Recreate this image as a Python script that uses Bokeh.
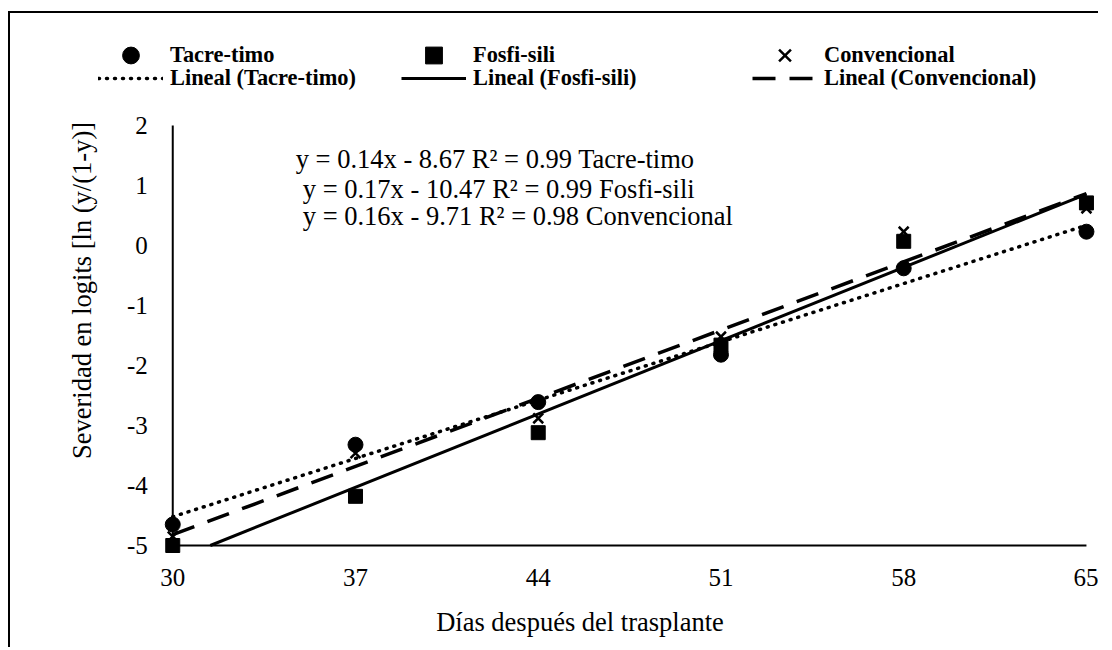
import numpy as np
from bokeh.plotting import figure
from bokeh.models import Range1d, FixedTicker, Legend, LegendItem
from bokeh.core.properties import value
from bokeh.embed import file_html
from bokeh.resources import INLINE

# ---------------- data ----------------
days = [30, 37, 44, 51, 58, 65]
tacre = [-4.65, -3.32, -2.61, -1.82, -0.38, 0.23]
fosfi = [-5.00, -4.18, -3.12, -1.66, 0.07, 0.71]
conv = [-4.85, -3.46, -2.88, -1.52, 0.23, 0.62]

series_names = ["Tacre-timo", "Fosfi-sili", "Convencional"]
eq_slopes = [0.14, 0.17, 0.16]
eq_intercepts = [-8.67, -10.47, -9.71]
eq_r2 = [0.99, 0.99, 0.98]

x_ticks = [30, 37, 44, 51, 58, 65]
y_ticks = [-5, -4, -3, -2, -1, 0, 1, 2]
x_title = "Días después del trasplante"
y_title = "Severidad en logits [ln (y/(1-y)]"

# ---------------- style / layout ----------------
FONT = "Liberation Serif"
X_MIN, X_MAX = 30, 65
Y_MIN, Y_MAX = -5, 2

p = figure(width=1090, height=636,
           x_range=Range1d(25.7, 65.5), y_range=Range1d(-5.25, 3.75),
           output_backend="svg", toolbar_location=None,
           min_border_left=50, min_border_right=1,
           min_border_top=7, min_border_bottom=89)
p.styles = {"border-left": "2px solid black", "border-top": "2px solid black",
            "margin-top": "11px", "margin-left": "8px"}
p.outline_line_color = None
p.xgrid.visible = False
p.ygrid.visible = False
p.background_fill_color = "white"
p.border_fill_color = "white"

p.xaxis.ticker = FixedTicker(ticks=x_ticks)
p.yaxis.ticker = FixedTicker(ticks=y_ticks)
p.yaxis.fixed_location = X_MIN
p.yaxis.major_label_overrides = {t: str(t) for t in y_ticks}
for ax in (p.xaxis[0], p.yaxis[0]):
    ax.axis_line_color = None
    ax.major_tick_line_color = None
    ax.minor_tick_line_color = None
    ax.major_tick_out = 0
    ax.major_tick_in = 0
    ax.minor_tick_out = 0
    ax.major_label_text_font = FONT
    ax.major_label_text_font_size = "25px"
    ax.major_label_text_color = "black"
    ax.axis_label_text_font = FONT
    ax.axis_label_text_font_size = "26.5px"
    ax.axis_label_text_font_style = "normal"
    ax.axis_label_text_color = "black"
p.xaxis.axis_label = x_title
p.yaxis.axis_label = y_title
p.xaxis.major_label_standoff = 8
p.yaxis.major_label_standoff = 25
p.xaxis.axis_label_standoff = 18
p.yaxis.axis_label_standoff = 27

# axis lines (x = 30 vertical, y = -5 horizontal)
p.segment(x0=[X_MIN, X_MIN], y0=[Y_MIN, Y_MIN], x1=[X_MIN, X_MAX], y1=[Y_MAX, Y_MIN],
          line_color="black", line_width=2)

# ---------------- trend lines ----------------
def fit_line(ys):
    m, b = np.polyfit(days, ys, 1)
    x0 = max(X_MIN, (Y_MIN - b) / m)
    return [x0, X_MAX], [m * x0 + b, m * X_MAX + b]

tx, ty = fit_line(tacre)
fx, fy = fit_line(fosfi)
cx, cy = fit_line(conv)
r_tl = p.line(tx, ty, line_color="black", line_width=3.5, line_dash="1 7", line_cap="round")
r_fl = p.line(fx, fy, line_color="black", line_width=3)
r_cl = p.line(cx, cy, line_color="black", line_width=3.5, line_dash="23 14")

# ---------------- markers ----------------
r_cx = p.scatter(days, conv, marker="x", size=14, line_color="black", line_width=2.5)
r_tc = p.scatter(days, tacre, marker="circle", size=15, fill_color="black", line_color="black")
r_fs = p.scatter(days, fosfi, marker="square", size=14, fill_color="black", line_color="black")

# ---------------- equations ----------------
eq_texts = [f"y = {s:.2f}x - {abs(b):.2f} R\u00b2 = {r:.2f} {n}"
            for s, b, r, n in zip(eq_slopes, eq_intercepts, eq_r2, series_names)]
p.text(x=[34.71, 34.98, 34.98], y=[1.442, 0.945, 0.50], text=eq_texts,
       text_font=value(FONT), text_font_size="26.5px", text_color="black",
       text_align="left", text_baseline="middle")

# ---------------- legend ----------------
def add_leg(renderer, label, x, y, gh):
    leg = Legend(items=[LegendItem(label=value(label), renderers=[renderer])],
                 location=(x, y), orientation="vertical",
                 glyph_width=65, glyph_height=gh, label_height=gh,
                 label_standoff=7, padding=0, margin=0, spacing=0,
                 border_line_color=None, background_fill_alpha=0,
                 label_text_font=FONT, label_text_font_size="22.4px",
                 label_text_font_style="bold", label_text_color="black")
    p.add_layout(leg, "center")

add_leg(r_tc, series_names[0], 38, 484, 42)
add_leg(r_fs, series_names[1], 341, 484, 42)
add_leg(r_cx, series_names[2], 692, 484, 42)
add_leg(r_tl, "Lineal (" + series_names[0] + ")", 38, 469, 22)
add_leg(r_fl, "Lineal (" + series_names[1] + ")", 341, 469, 22)
add_leg(r_cl, "Lineal (" + series_names[2] + ")", 692, 469, 22)

open("out.html", "w").write(file_html(p, INLINE))
